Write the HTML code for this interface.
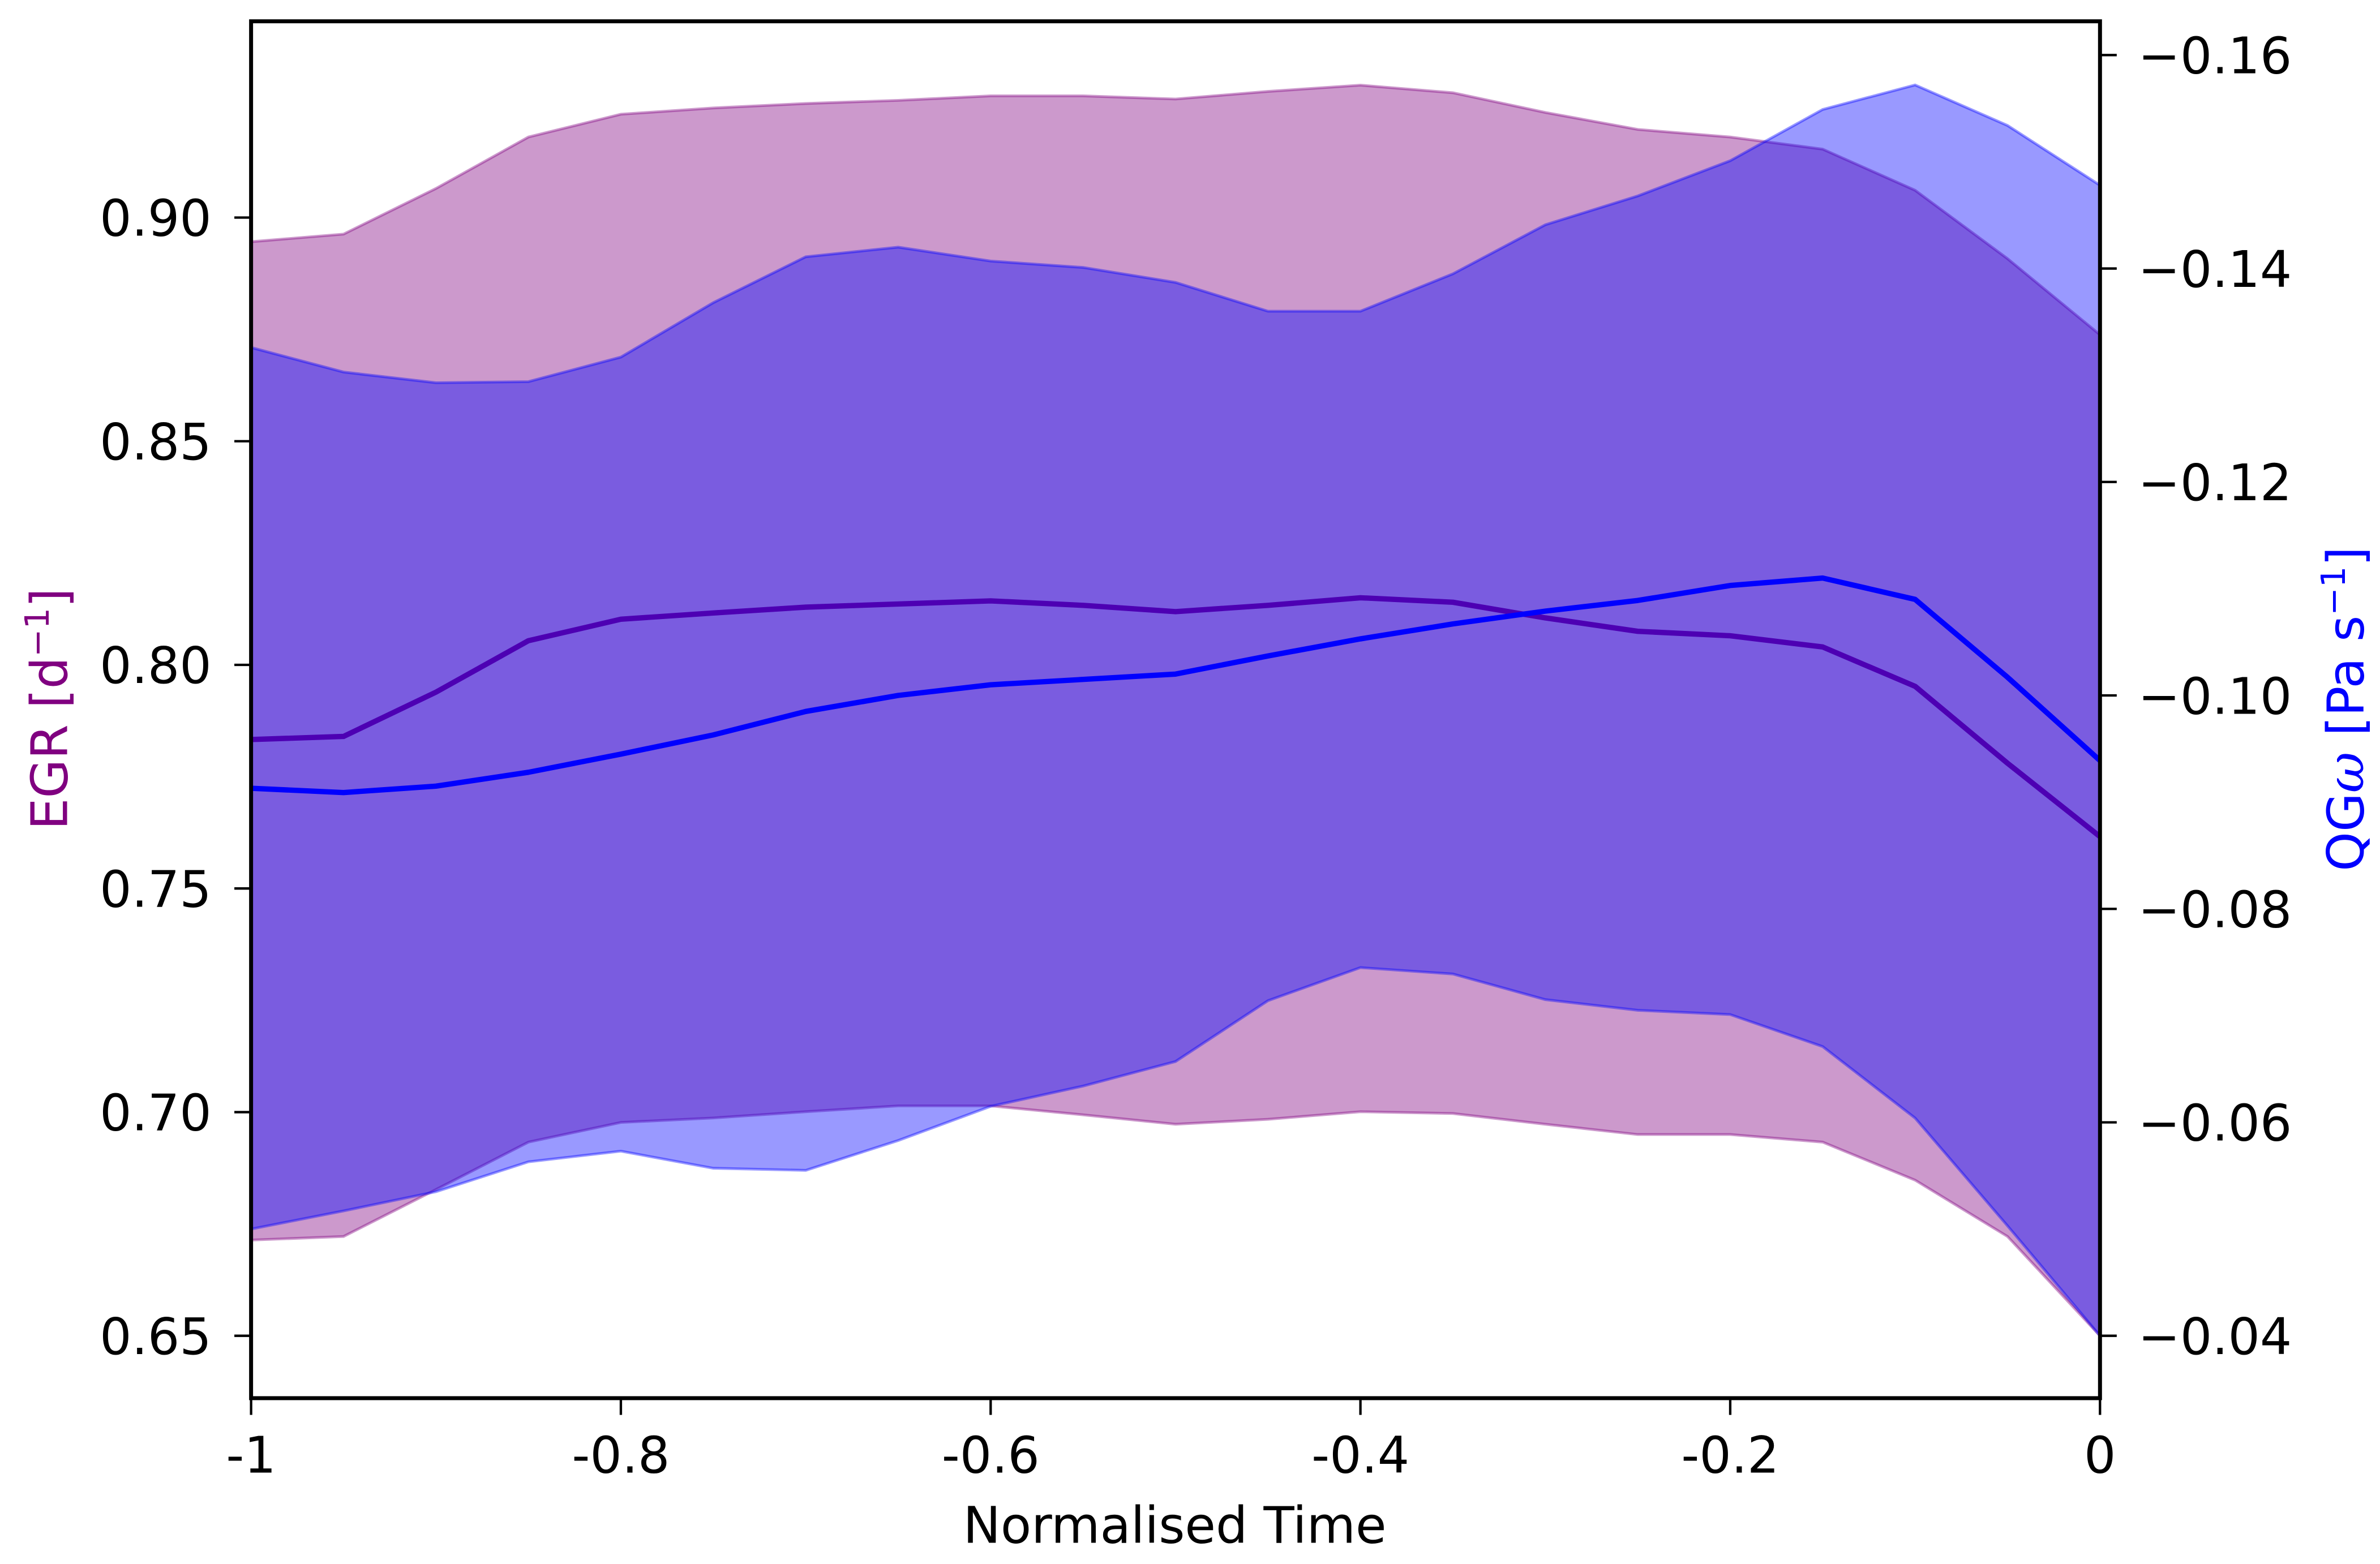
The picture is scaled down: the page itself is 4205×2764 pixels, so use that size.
<!DOCTYPE html>
<html><head><meta charset="utf-8"><style>
html,body{margin:0;padding:0;background:#fff;}
svg{display:block;font-family:"DejaVu Sans","Liberation Sans",sans-serif;}
</style></head><body>
<svg id="chart" width="4205" height="2764" viewBox="0 0 1564 1028" preserveAspectRatio="none" xmlns="http://www.w3.org/2000/svg">
<rect width="1564" height="1028" fill="#fff"/>
<g id="plot"></g>
<g id="axes"></g>
<text x="772" y="1014" font-size="33" text-anchor="middle" fill="#000">Normalised Time</text>
<text transform="translate(44,466) rotate(-90)" font-size="33" text-anchor="middle" fill="#800080">EGR [d<tspan font-size="22" dy="-12">−1</tspan><tspan dy="12">]</tspan></text>
<text transform="translate(1553,466) rotate(-90)" font-size="33" text-anchor="middle" fill="#0000ff">QG<tspan font-style="italic" font-family="DejaVu Serif, serif">ω</tspan> [Pa s<tspan font-size="22" dy="-12">−1</tspan><tspan dy="12">]</tspan></text>
</svg>
<script>
const xs = [-1,-0.95,-0.9,-0.85,-0.8,-0.75,-0.7,-0.65,-0.6,-0.55,-0.5,-0.45,-0.4,-0.35,-0.3,-0.25,-0.2,-0.15,-0.1,-0.05,0];
const egrMean = [0.7833,0.784,0.7939,0.8054,0.8102,0.8116,0.8129,0.8136,0.8143,0.8133,0.8119,0.8133,0.815,0.814,0.8105,0.8075,0.8065,0.804,0.7952,0.7780,0.7616];
const egrUpper = [0.8946,0.8963,0.9065,0.918,0.9231,0.9245,0.9255,0.9262,0.9272,0.9272,0.9265,0.9282,0.9296,0.9279,0.9235,0.9197,0.918,0.9153,0.9061,0.8908,0.8738];
const egrLower = [0.6714,0.6722,0.6827,0.6933,0.6977,0.6987,0.7001,0.7014,0.7014,0.6994,0.6973,0.6984,0.7001,0.6997,0.6973,0.695,0.695,0.6933,0.6848,0.6722,0.65];
const qgMean = [-0.0913,-0.0909,-0.0915,-0.0928,-0.0945,-0.0963,-0.0985,-0.1000,-0.1010,-0.1015,-0.1020,-0.1037,-0.1053,-0.1067,-0.1079,-0.1089,-0.1103,-0.1110,-0.1090,-0.1017,-0.0939];
const qgUpper = [-0.1326,-0.1303,-0.1293,-0.1294,-0.1317,-0.1368,-0.1411,-0.1420,-0.1407,-0.1401,-0.1387,-0.1360,-0.1360,-0.1395,-0.1441,-0.1468,-0.1501,-0.1549,-0.1572,-0.1534,-0.1478];
const qgLower = [-0.05,-0.0517,-0.0535,-0.0563,-0.0573,-0.0557,-0.0555,-0.0583,-0.0615,-0.0634,-0.0657,-0.0714,-0.0745,-0.0739,-0.0715,-0.0705,-0.0701,-0.0671,-0.0604,-0.0503,-0.04];
const xTicks = [-1,-0.8,-0.6,-0.4,-0.2,0];
const xTickLabels = ["-1","-0.8","-0.6","-0.4","-0.2","0"];
const leftTicks = [0.65,0.70,0.75,0.80,0.85,0.90];
const leftTickLabels = ["0.65","0.70","0.75","0.80","0.85","0.90"];
const rightTicks = [-0.04,-0.06,-0.08,-0.10,-0.12,-0.14,-0.16];
const rightTickLabels = ["\u22120.04","\u22120.06","\u22120.08","\u22120.10","\u22120.12","\u22120.14","\u22120.16"];

const L=165,R=1380,T=14,B=919;
const X = v => L + (v - (-1)) / 1 * (R - L);
const YL = v => 143 + (0.90 - v) / 0.05 * 147;
const YR = v => 878 - (-0.04 - v) / 0.02 * 140.3;
const NS="http://www.w3.org/2000/svg";
const plot=document.getElementById('plot'), axes=document.getElementById('axes');
function mk(tag, parent, attrs){const e=document.createElementNS(NS,tag);for(const k in attrs)e.setAttribute(k,attrs[k]);parent.appendChild(e);return e;}
function band(up, lo, yf){
  let d='M'+xs.map((x,i)=>X(x)+','+yf(up[i])).join(' L');
  for(let i=xs.length-1;i>=0;i--) d+=' L'+X(xs[i])+','+yf(lo[i]);
  return d+' Z';
}
function line(vals,yf){return 'M'+xs.map((x,i)=>X(x)+','+yf(vals[i])).join(' L');}

let e;
e=mk('path',plot,{d:band(egrUpper,egrLower,YL),fill:'#800080','fill-opacity':0.4,stroke:'#800080','stroke-opacity':0.4,'stroke-width':1.8});


e=mk('path',plot,{d:line(egrMean,YL),fill:'none',stroke:'#800080','stroke-width':3.5,'stroke-linejoin':'round'});


e=mk('path',plot,{d:band(qgUpper,qgLower,YR),fill:'#0000ff','fill-opacity':0.4,stroke:'#0000ff','stroke-opacity':0.4,'stroke-width':1.8});


e=mk('path',plot,{d:line(qgMean,YR),fill:'none',stroke:'#0000ff','stroke-width':3.5,'stroke-linejoin':'round'});



e=mk('rect',axes,{x:L,y:T,width:R-L,height:B-T,fill:'none',stroke:'#000','stroke-width':2.6});



xTicks.forEach((v,i)=>{
  const x=X(v);
  mk('line',axes,{x1:x,x2:x,y1:B,y2:B+11,stroke:'#000','stroke-width':1.6});
  const t=mk('text',axes,{x:x,y:968,'font-size':33,'text-anchor':'middle',fill:'#000'});
  t.textContent=xTickLabels[i];
  
  
});
leftTicks.forEach((v,i)=>{
  const y=YL(v);
  mk('line',axes,{x1:L-11,x2:L,y1:y,y2:y,stroke:'#000','stroke-width':1.6});
  const t=mk('text',axes,{x:139,y:y+12,'font-size':33,'text-anchor':'end',fill:'#000'});
  t.textContent=leftTickLabels[i];
  
  
});
rightTicks.forEach((v,i)=>{
  const y=YR(v);
  mk('line',axes,{x1:R,x2:R+11,y1:y,y2:y,stroke:'#000','stroke-width':1.6});
  const t=mk('text',axes,{x:1405,y:y+12,'font-size':33,'text-anchor':'start',fill:'#000'});
  t.textContent=rightTickLabels[i];
  
  
});
</script>
</body></html>
